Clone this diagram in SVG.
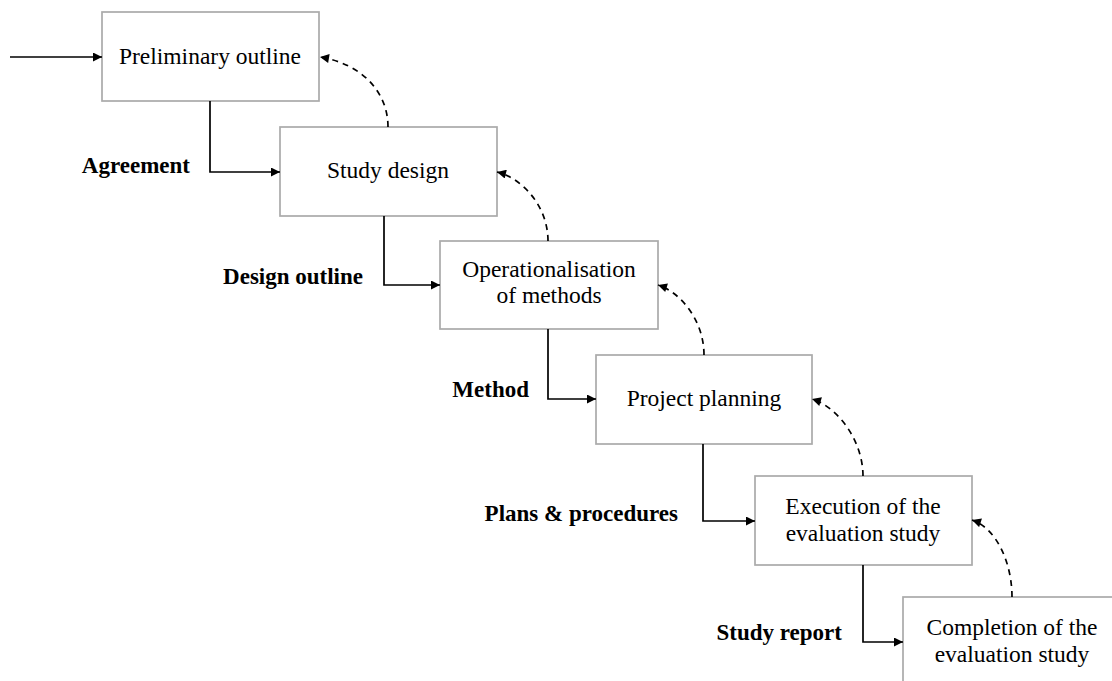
<svg xmlns="http://www.w3.org/2000/svg" width="1112" height="681" viewBox="0 0 1112 681">
<defs>
<marker id="ah" viewBox="0 0 10 10" refX="10" refY="5" markerWidth="11" markerHeight="9" markerUnits="userSpaceOnUse" orient="auto"><path d="M0,0 L10,5 L0,10 z" fill="#000"/></marker>
<style>
.box{fill:#fff;stroke:#aaa;stroke-width:1.7}
.t{font-family:"Liberation Serif","Times New Roman",serif;font-size:23.5px;fill:#000;text-anchor:middle}
.l{font-family:"Liberation Serif","Times New Roman",serif;font-size:23px;font-weight:bold;fill:#000;text-anchor:end}
.c{fill:none;stroke:#000;stroke-width:1.7;marker-end:url(#ah)}
.d{fill:none;stroke:#000;stroke-width:1.7;stroke-dasharray:6,5;marker-end:url(#ah)}
</style>
</defs>
<g id="n1"><rect class="box" x="102" y="12" width="217" height="89"/><text class="t" x="210" y="64">Preliminary outline</text></g>
<g id="n2"><rect class="box" x="280" y="127" width="217" height="89"/><text class="t" x="388" y="178">Study design</text></g>
<g id="n3"><rect class="box" x="440" y="241" width="218" height="88"/><text class="t" x="549" y="277">Operationalisation</text><text class="t" x="549" y="303">of methods</text></g>
<g id="n4"><rect class="box" x="596" y="355" width="216" height="89"/><text class="t" x="704" y="406">Project planning</text></g>
<g id="n5"><rect class="box" x="755" y="476" width="217" height="89"/><text class="t" x="863" y="514">Execution of the</text><text class="t" x="863" y="541">evaluation study</text></g>
<g id="n6"><rect class="box" x="903" y="597" width="217" height="89"/><text class="t" x="1012" y="635">Completion of the</text><text class="t" x="1012" y="662">evaluation study</text></g>
<g id="labels">
<text class="l" x="190" y="173">Agreement</text>
<text class="l" x="363" y="284">Design outline</text>
<text class="l" x="529" y="397">Method</text>
<text class="l" x="678" y="521">Plans &amp; procedures</text>
<text class="l" x="842" y="640">Study report</text>
</g>
<g id="connectors">
<path class="c" d="M10,57 H102"/>
<path class="c" d="M210,101 V172 H280"/>
<path class="c" d="M384,216 V285 H440"/>
<path class="c" d="M548,329 V399 H596"/>
<path class="c" d="M703,444 V521 H755"/>
<path class="c" d="M863,565 V642 H903"/>
<path class="d" d="M388,127 C388,92 362,64 320,57"/>
<path class="d" d="M548,241 C548,206 522,178 497,172"/>
<path class="d" d="M704,355 C704,320 680,292 658,285"/>
<path class="d" d="M863,476 C863,441 838,407 812,399"/>
<path class="d" d="M1012,597 C1012,562 996,528 972,520"/>
</g>
</svg>
